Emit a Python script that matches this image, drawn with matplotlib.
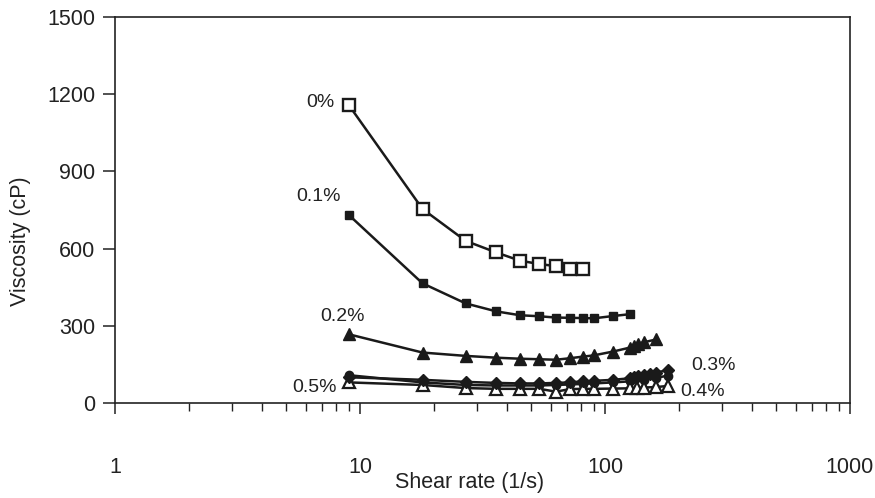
import matplotlib
matplotlib.use('Agg')
import matplotlib.pyplot as plt
from matplotlib.ticker import LogLocator, FixedLocator, NullFormatter

plt.rcParams['font.family'] = ['Liberation Sans', 'DejaVu Sans']

# shear rate (1/s) and viscosity (cP) for each concentration
x_0 = [9, 18, 27, 36, 45, 54, 63, 72, 81]
v_0 = [1158, 754, 630, 585, 553, 540, 532, 522, 520]

x_01 = [9, 18, 27, 36, 45, 54, 63, 72, 81, 90, 108, 126]
v_01 = [731, 465, 387, 356, 341, 337, 332, 331, 330, 329, 338, 345]

x_02 = [9, 18, 27, 36, 45, 54, 63, 72, 81, 90, 108, 126, 131, 137, 144, 162]
v_02 = [267, 196, 183, 176, 172, 170, 168, 174, 180, 185, 200, 215, 221, 230, 236, 247]

x_03 = [9, 18, 27, 36, 45, 54, 63, 72, 81, 90, 108, 126, 131, 137, 144, 153, 162, 180]
v_03 = [100, 90, 82, 78, 76, 76, 78, 80, 84, 86, 90, 96, 100, 104, 108, 112, 118, 128]

x_04 = [9, 18, 27, 36, 45, 54, 63, 72, 81, 90, 108, 126, 135, 144, 162, 180]
v_04 = [80, 70, 58, 55, 55, 55, 44, 54, 55, 55, 56, 57, 58, 60, 62, 66]

x_05 = [9, 18, 27, 36, 45, 54, 63, 72, 81, 90, 108, 126, 144, 162, 180]
v_05 = [108, 80, 70, 68, 68, 68, 70, 72, 74, 76, 80, 84, 90, 98, 106]

fig = plt.figure(figsize=(8.75, 4.98), dpi=100)
ax = fig.add_axes([0.1314, 0.1908, 0.84, 0.775])

k = dict(color='#1a1a1a', lw=1.8)
ax.plot(x_05, v_05, marker='o', ms=6, mfc='#1a1a1a', mec='#1a1a1a', **k)
ax.plot(x_04, v_04, marker='^', ms=8, mfc='white', mec='#1a1a1a', mew=1.6, **k)
ax.plot(x_03, v_03, marker='D', ms=6, mfc='#1a1a1a', mec='#1a1a1a', **k)
ax.plot(x_02, v_02, marker='^', ms=8, mfc='#1a1a1a', mec='#1a1a1a', **k)
ax.plot(x_01, v_01, marker='s', ms=6, mfc='#1a1a1a', mec='#1a1a1a', **k)
ax.plot(x_0, v_0, marker='s', ms=9, mfc='white', mec='#1a1a1a', mew=1.7, **k)

ax.set_xscale('log')
ax.set_xlim(1, 1000)
ax.set_ylim(0, 1500)
ax.set_yticks([0, 300, 600, 900, 1200, 1500])
ax.xaxis.set_major_locator(FixedLocator([1, 10, 100, 1000]))
ax.xaxis.set_minor_locator(LogLocator(base=10, subs=range(2, 10)))
ax.xaxis.set_minor_formatter(NullFormatter())
ax.set_xticklabels(['1', '10', '100', '1000'])

ax.tick_params(axis='x', which='major', direction='out', length=8, width=1.1,
               pad=31, labelsize=15.5, colors='#222222')
ax.tick_params(axis='x', which='minor', direction='out', length=6, width=1.0,
               colors='#222222')
ax.tick_params(axis='y', direction='out', length=9, width=1.1, pad=5,
               labelsize=15.5, colors='#222222')
for s in ax.spines.values():
    s.set_linewidth(1.2)
    s.set_color('#222222')

ax.set_xlabel('Shear rate (1/s)', fontsize=15.5, va='center', color='#222222')
ax.xaxis.set_label_coords(0.483, -0.207)
ax.set_ylabel('Viscosity (cP)', fontsize=15.5, va='center', color='#222222')
ax.yaxis.set_label_coords(-0.129, 0.42)

# concentration labels
lab = dict(fontsize=14, ha='center', va='center', color='#222222')
ax.annotate('0%', xy=(0.28, 0.778), xycoords='axes fraction', **lab)
ax.annotate('0.1%', xy=(0.277, 0.534), xycoords='axes fraction', **lab)
ax.annotate('0.2%', xy=(0.31, 0.223), xycoords='axes fraction', **lab)
ax.annotate('0.5%', xy=(0.272, 0.039), xycoords='axes fraction', **lab)
ax.annotate('0.3%', xy=(0.814, 0.096), xycoords='axes fraction', **lab)
ax.annotate('0.4%', xy=(0.8, 0.031), xycoords='axes fraction', **lab)

plt.savefig('out.png', dpi=100)
